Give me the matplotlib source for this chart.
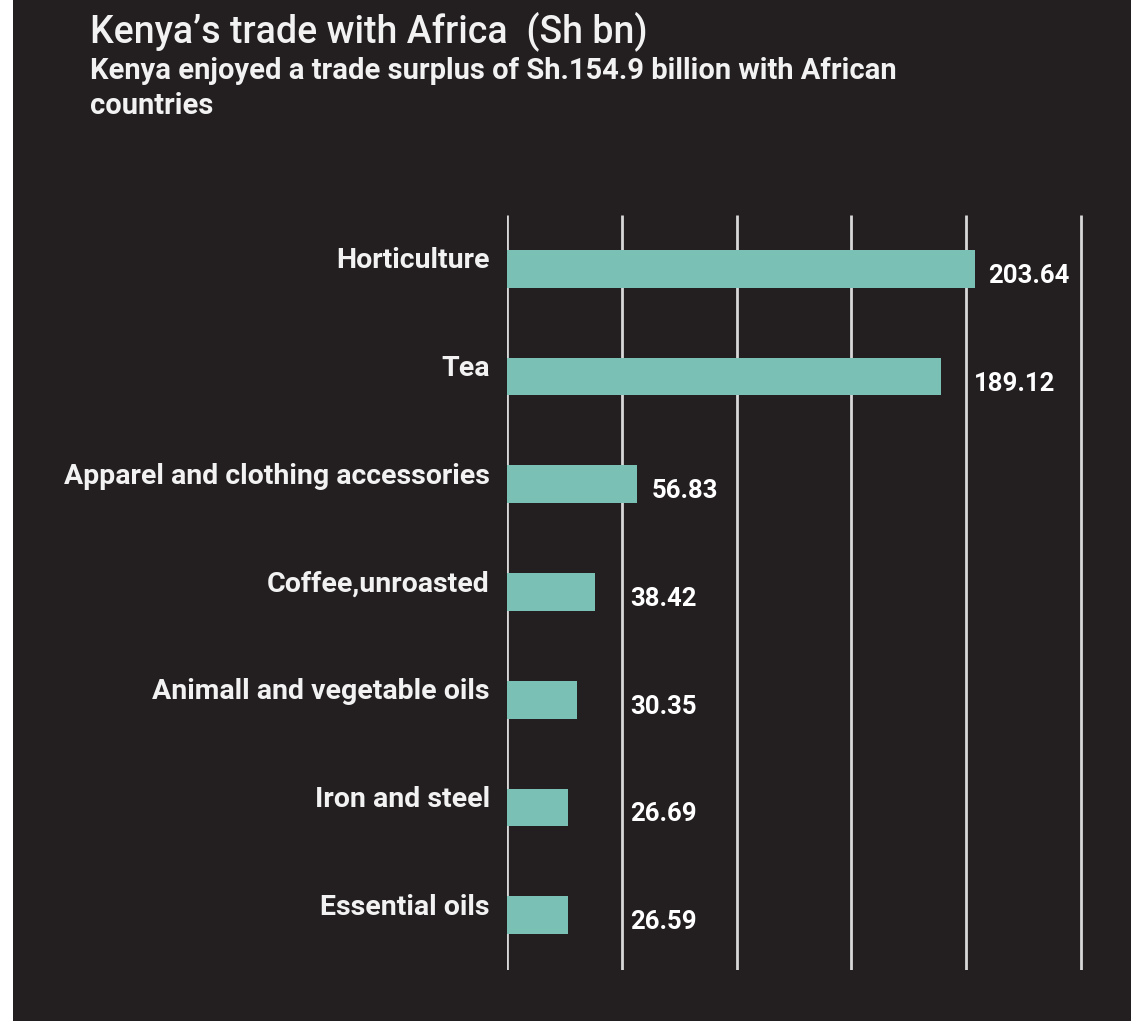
import matplotlib
matplotlib.use("Agg")
import matplotlib.pyplot as plt
from matplotlib.patches import Rectangle

# Kenya's exports to African countries, Sh bn
categories = [
    "Horticulture",
    "Tea",
    "Apparel and clothing accessories",
    "Coffee,unroasted",
    "Animall and vegetable oils",
    "Iron and steel",
    "Essential oils",
]
values = [203.64, 189.12, 56.83, 38.42, 30.35, 26.69, 26.59]
grid_ticks = [0, 50, 100, 150, 200, 250]

title = "Kenya\u2019s trade with Africa  (Sh bn)"
subtitle = "Kenya enjoyed a trade surplus of Sh.154.9 billion with African\ncountries"

BG = "#231f20"
BAR = "#7bc0b5"
GRID = "#d8d8d8"
TXT = "#f2f2f2"
FONT = ["Roboto", "DejaVu Sans"]

W, H = 1131, 1021
fig = plt.figure(figsize=(W / 100, H / 100), dpi=100, facecolor=BG)

# thin light strip along the left edge
fig.patches.append(Rectangle((0, 0), 13 / W, 1, transform=fig.transFigure,
                             facecolor="white", edgecolor="none", zorder=0))

px_per_unit = (1081 - 507) / 250
xmax = 256
ax = fig.add_axes([507 / W, 1 - 970 / H, xmax * px_per_unit / W, (970 - 215) / H])
ax.set_zorder(2)
ax.set_facecolor("none")
ax.set_xlim(0, xmax)
ax.set_ylim(6.51, -0.5)
for s in ax.spines.values():
    s.set_visible(False)
ax.set_xticks([])
ax.set_yticks([])

for g in grid_ticks:
    ax.axvline(g, color=GRID, lw=2.0, zorder=1, solid_capstyle="butt")

ypos = list(range(len(categories)))
ax.barh(ypos, values, height=0.35, color=BAR, zorder=2)

for y, cat, v in zip(ypos, categories, values):
    ax.annotate(cat, xy=(0, y), xytext=(-17, 8), textcoords="offset pixels",
                ha="right", va="center", color=TXT, fontsize=20.5,
                family=FONT, fontweight="bold", annotation_clip=False)
    # value label sits past the bar end, clear of any gridline it would cross
    lx = v + 6
    for g in grid_ticks:
        if v < g < lx + 30:
            lx = g + 3.5
            break
    ax.annotate(f"{v:.2f}", xy=(lx, y), xytext=(0, -7), textcoords="offset pixels",
                ha="left", va="center", color="white", fontsize=18.5,
                family=FONT, fontweight="bold", annotation_clip=False)

fig.text(90 / W, 1 - 31 / H, title, ha="left", va="center", color=TXT,
         fontsize=27, family=FONT, fontweight="medium")
fig.text(90 / W, 1 - 57 / H, subtitle, ha="left", va="top", color=TXT,
         fontsize=21, family=FONT, fontweight="bold", linespacing=1.3)

fig.savefig("out.png", dpi=100, facecolor=BG)
